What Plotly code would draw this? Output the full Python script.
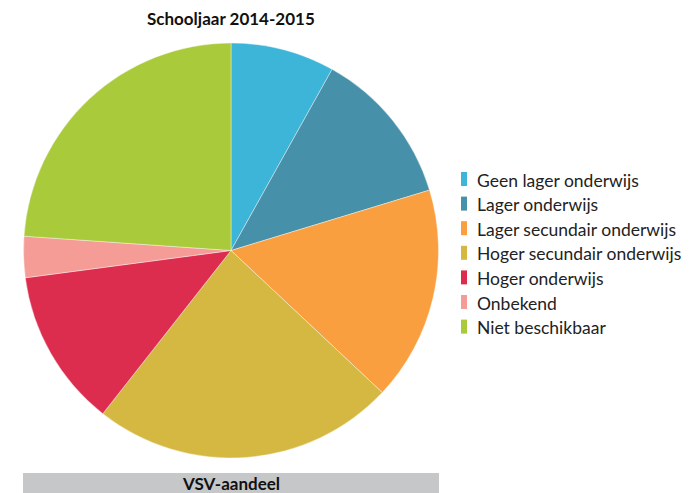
import plotly.graph_objects as go

title = "Schooljaar 2014-2015"
footer = "VSV-aandeel"
labels = [
    "Geen lager onderwijs",
    "Lager onderwijs",
    "Lager secundair onderwijs",
    "Hoger secundair onderwijs",
    "Hoger onderwijs",
    "Onbekend",
    "Niet beschikbaar",
]
shares = [8.1, 12.2, 16.7, 23.6, 12.3, 3.2, 23.9]
colors = ["#3db5d8", "#4690a9", "#f99f40", "#d5b841", "#dc2d4e", "#f59c97", "#a9ca3b"]

W, H = 690, 493
font = "Lato, Noto Sans, sans-serif"

fig = go.Figure(go.Pie(
    labels=labels,
    values=shares,
    sort=False,
    direction="clockwise",
    rotation=0,
    textinfo="none",
    hoverinfo="label+percent",
    marker=dict(colors=colors, line=dict(color="white", width=0.4)),
    domain=dict(x=[23 / W, 439 / W], y=[1 - 458 / H, 1 - 43 / H]),
    showlegend=False,
))

# legend drawn by hand: narrow colour bars + labels
shapes = []
annotations = []
for i, (lab, col) in enumerate(zip(labels, colors)):
    yc = 179 + i * 24.6
    shapes.append(dict(type="rect", xref="paper", yref="paper",
                       x0=461 / W, x1=467 / W,
                       y0=1 - (yc + 7) / H, y1=1 - (yc - 7) / H,
                       fillcolor=col, line=dict(width=0)))
    annotations.append(dict(text=lab, xref="paper", yref="paper",
                            x=475 / W, y=1 - (yc + 1) / H, xanchor="left", yanchor="middle",
                            showarrow=False, font=dict(size=17.5, color="#222222", family=font)))

# grey footer band
shapes.append(dict(type="rect", xref="paper", yref="paper",
                   x0=23 / W, x1=439 / W, y0=0, y1=20 / H,
                   fillcolor="#c6c7c8", line=dict(width=0)))
annotations.append(dict(text="<b>" + footer + "</b>", xref="paper", yref="paper",
                        x=231 / W, y=10 / H, xanchor="center", yanchor="middle",
                        showarrow=False, font=dict(size=17, color="#111111", family=font)))
annotations.append(dict(text="<b>" + title + "</b>", xref="paper", yref="paper",
                        x=231 / W, y=1 - 18 / H, xanchor="center", yanchor="middle",
                        showarrow=False, font=dict(size=17, color="#111111", family=font)))

fig.update_layout(
    width=W, height=H,
    margin=dict(l=0, r=0, t=0, b=0),
    paper_bgcolor="white",
    plot_bgcolor="white",
    shapes=shapes,
    annotations=annotations,
)

# drop the default page margin so the figure fills the window
fig.write_html("out.html", config={"displayModeBar": False},
               post_script="document.body.style.margin='0';")
